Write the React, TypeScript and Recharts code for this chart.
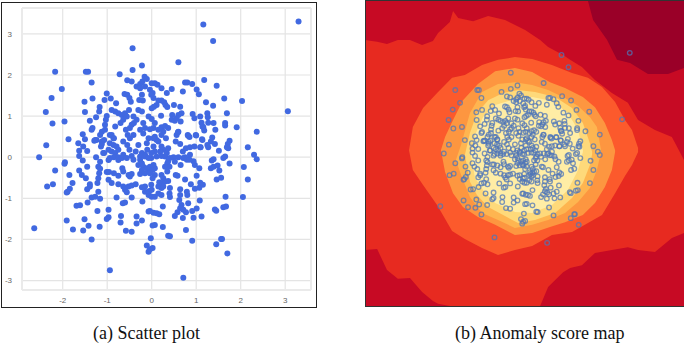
import { Area, CartesianGrid, ComposedChart, ReferenceArea, ReferenceLine, Scatter, ScatterChart, XAxis, YAxis } from 'recharts';

// points; panel (b) shows the same sample
const outerPoints = [
	[3.3, 3.3], [1.16, 3.23], [1.38, 2.83], [0.6, 2.31], [-0.43, 2.65], [3.06, 1.12], [-0.94, -2.75], [0.71, -2.93],
	[-2.17, 2.08], [-1.48, 2.08], [-1.43, 2.08], [-1.35, 1.82], [-2.02, 1.66], [-2.25, 1.44], [-2.38, 1.1], [-2.23, 0.82],
	[-1.96, 0.87], [-1.87, 0.44], [-2.37, 0.29], [-2.53, 0], [-1.95, -0.12], [-1.96, -0.16], [-2.17, -0.32], [-1.85, -0.43],
	[-2.22, -0.66], [-2.35, -0.71], [-2.64, -1.73], [2.03, 1.37], [1.91, 0.73], [2.36, 0.62], [2.16, 0.24], [2.3, 0.06],
	[2.36, -0.05], [2.07, -0.24], [2.16, -0.54], [2.05, -0.97], [1.7, -2.34],
];
const upperLeft = [
	[-0.22, 2.23], [-0.43, 2.12], [-0.72, 2.02], [-0.16, 1.96], [-0.55, 1.87], [-0.45, 1.84], [-0.34, 1.72], [-0.26, 1.78],
	[-0.21, 1.84], [-0.11, 1.9], [-0.15, 1.72], [-0.26, 1.68], [-1.51, 1.35], [-1.33, 1.43], [-1.5, 1.1], [-1.01, 1.55],
	[-1.06, 1.39], [-0.92, 1.43], [-0.8, 1.31], [-1.17, 1.22], [-1.18, 1.11], [-1.25, 0.97], [-1.39, 0.89], [-1.01, 1],
	[-1.03, 0.91], [-1.33, 0.71], [-1.35, 0.67], [-1.55, 0.56], [-1.5, 0.44], [-1.65, 0.34], [-1.54, 0.26], [-1.63, 0.16],
	[-1.45, 0.15], [-1.63, 0.03], [-1.25, 0], [-1.16, 0.54], [-1.12, 0.62], [-1.05, 0.67], [-1.29, 0.4], [-1.24, 0.42],
	[-1.12, 0.38], [-1.14, 0.26], [-0.94, 0.54], [-0.86, 0.46], [-0.94, 0.34], [-1.07, 0.1], [-0.61, 1.54], [-0.55, 1.52],
	[-0.5, 1.44], [-0.47, 1.35], [-0.22, 1.52], [-0.28, 1.39], [-0.2, 1.38], [-0.9, 1.15], [-0.82, 1.11], [-0.75, 1.07],
	[-0.67, 1.03], [-0.6, 1.07], [-0.51, 1.15], [-0.56, 0.99], [-0.64, 0.91], [-0.7, 0.83], [-0.3, 1.15], [-0.22, 1.11],
	[-0.41, 0.99], [-0.34, 0.91], [-0.45, 0.79], [-0.49, 0.71], [-0.4, 0.83], [-0.07, 0.99], [-0.19, 0.83], [-0.15, 0.71],
	[-0.26, 0.67], [-0.19, 0.58], [-0.58, 0.67], [-0.54, 0.54], [-0.49, 0.46], [-0.41, 0.54], [-0.82, 0.75], [-1.05, 0.79],
	[-1.27, 0.42], [-1.07, 0.42], [-1.12, 0.32], [-0.9, 0.54], [-0.85, 0.46], [-0.86, 0.3], [-0.79, 0.26], [-0.97, 0.18],
	[-0.9, 0.14], [-0.82, 0.1], [-0.75, 0.18], [-0.85, 0], [-0.75, 0], [-0.64, 0.38], [-0.55, 0.3], [-0.5, 0.18],
	[-0.64, 0.06], [-0.36, 0.14], [-0.3, 0.3], [-0.22, 0.1], [-0.15, 0.06], [-0.1, 0.18], [-1.09, 0.1], [-0.07, 0.46],
	[-0.11, 0.34], [-0.45, 0.03], [-0.26, 0.02], [-0.15, 0.02],
];
const upperRight = [
	[0, 1.8], [0.07, 1.8], [0.13, 1.76], [0.22, 1.68], [0.45, 1.66], [0.34, 1.56], [0.7, 1.6], [0.75, 1.82],
	[0.8, 1.82], [0.91, 1.78], [1.18, 1.88], [1.01, 1.65], [1.06, 1.53], [1.22, 1.34], [-0.04, 1.64], [0.02, 1.56],
	[0.04, 1.44], [-0.01, 1.52], [0.15, 1.38], [0.22, 1.38], [0.28, 1.34], [0.31, 1.27], [0.35, 1.22], [0.11, 1.27],
	[0.05, 1.23], [0.5, 1.27], [0.64, 1.23], [0.67, 1.07], [0.6, 1.03], [0.46, 1.03], [0.45, 0.91], [0.52, 0.89],
	[0.65, 0.87], [0.56, 0.95], [0.21, 1.01], [0, 1.19], [0.92, 1.05], [0.96, 0.95], [1.09, 0.99], [1.25, 1.07],
	[1.27, 0.84], [1.12, 0.84], [1.16, 0.73], [1.18, 0.65], [0, 0.93], [0.07, 0.83], [0.04, 0.71], [-0.04, 0.68],
	[0.22, 0.73], [0.3, 0.76], [0.37, 0.71], [0.26, 0.62], [0.22, 0.54], [0.15, 0.67], [0.07, 0.5], [0.11, 0.42],
	[0.15, 0.38], [0.04, 0.46], [0.32, 0.46], [0.6, 0.62], [0.56, 0.54], [0.54, 0.38], [0.82, 0.52], [0.99, 0.54],
	[1.14, 0.42], [1.27, 0.24], [0.22, 0.26], [0.26, 0.18], [0.34, 0.1], [0.37, 0.22], [0.19, 0.14], [0.04, 0.26],
	[0.07, 0.14], [-0.01, 0.1], [0.64, 0.32], [0.7, 0.14], [0.77, 0.22], [0.86, 0.24], [0.96, 0.26], [1.09, 0.24],
	[0.49, 0], [0.6, 0], [0.75, 0], [0.86, 0.06], [1.46, 1.74], [1.63, 1.43], [1.38, 1.25], [1.69, 1.07],
	[1.65, 0.83], [1.65, 0.77], [1.43, 0.67], [1.39, 0.83], [1.26, 0.97], [1.14, 0.75], [1.75, 0.4], [1.71, 0.32],
	[1.72, 0.22], [1.69, 0.24], [1.51, 0.16], [1.36, 0.48], [1.33, 0.38], [1.25, 0.3], [1.42, 0.32], [1.13, 0.44],
	[1, 0.53], [1.1, 0.24], [1.65, 0.02], [1.61, -0.02], [0.85, 0.49], [0.81, 0.54], [0.59, 0.61], [0.11, 0.02],
	[0.22, 0.03], [0.3, 0.02], [-0.01, -0.02],
];
const lowerLeft = [
	[-1.16, -0.11], [-1.2, -0.23], [-1.16, -0.28], [-1.18, -0.39], [-1.2, -0.51], [-1.22, -0.63], [-1.01, -0.36], [-0.96, -0.36],
	[-0.85, -0.39], [-0.75, -0.45], [-0.97, -0.55], [-0.9, -0.63], [-0.75, -0.66], [-0.64, -0.71], [-0.52, -0.71], [-0.45, -0.69],
	[-0.36, -0.66], [-0.6, -0.79], [-0.56, -0.85], [-1.39, -0.71], [-1.35, -0.98], [-1.27, -0.96], [-1.16, -1.01], [-1.2, -0.84],
	[-0.79, -0.98], [-0.45, -0.98], [-0.65, -1.12], [-0.6, -1.1], [-0.21, -1.08], [-1.22, -1.31], [-0.97, -1.28], [-0.97, -1.46],
	[-1.01, -1.5], [-0.69, -1.43], [-0.7, -1.59], [-0.34, -1.44], [-0.22, -1.54], [-0.34, -1.61], [-1.17, -1.69], [-0.58, -1.79],
	[-0.45, -1.81], [-1.35, -2], [-0.07, -1.32], [-0.66, -0.27], [-0.64, -0.35], [-0.49, -0.47], [-0.52, -0.43], [-0.45, -0.41],
	[-0.26, -0.41], [-0.75, -0.07], [-0.67, -0.02], [-0.94, -0.02], [-0.97, -0.07], [-0.22, -0.73], [-0.15, -0.71], [-0.15, -0.84],
	[-0.07, -0.92], [-0.05, -0.82], [-0.41, -0.06], [-0.26, -0.06], [-0.22, -0.15], [-0.3, -0.19], [-0.19, -0.23], [-0.11, -0.27],
	[-0.22, -0.31], [-0.07, -0.35], [-0.15, -0.39], [-0.07, -0.02], [-0.56, -0.02], [-1.78, -0.63], [-1.84, -0.77], [-1.89, -0.84],
	[-1.91, -0.86], [-1.63, -0.32], [-1.57, -0.43], [-1.48, -0.51], [-1.55, -0.08], [-1.45, -0.23], [-1.45, -0.78], [-1.39, -0.66],
	[-1.69, -1.18], [-1.61, -1.17], [-1.44, -1.1], [-1.91, -1.54], [-1.51, -1.51], [-1.77, -1.76], [-1.54, -1.78], [-1.42, -1.67],
	[-0.02, -1.97], [-0.11, -2.15], [-0.07, -2.3], [0.02, -2.21], [-0.04, -2.24],
];
const lowerRight = [
	[1.35, -0.08], [1.39, -0.05], [1.33, -0.27], [1.39, -0.23], [1.48, -0.2], [1.52, -0.32], [1.75, -0.15], [1.46, -0.54],
	[1.56, -0.5], [1.66, -0.96], [1.67, -1.2], [1.61, -1.22], [1.42, -1.27], [1.45, -1.3], [1.12, -1.44], [0.94, -1.47],
	[0.91, -1.31], [1.01, -1.25], [1.08, -1.05], [0.82, -1.12], [0.77, -1.34], [0.7, -1.48], [0.58, -1.34], [0.52, -1.43],
	[0.77, -1.77], [0.25, -1.7], [0.37, -1.91], [0.41, -1.92], [0.91, -2.03], [1.56, -1.99], [1.58, -1.99], [1.45, -2.12],
	[0.64, -0.78], [0.64, -0.92], [0.62, -1.04], [0.79, -0.84], [0.8, -0.92], [0.41, -0.75], [0.4, -0.88], [0.41, -0.97],
	[1.09, -0.62], [1.15, -0.67], [1.07, -0.74], [0.97, -0.77], [0.88, -0.66], [0.75, -0.54], [1.01, -0.45], [1.07, -0.27],
	[0.97, -0.19], [0.94, -0.1], [0.58, -0.45], [0.54, -0.43], [0.25, -1.2], [0.67, -1.16], [0.64, -1.24], [0.71, -1.28],
	[-0.04, -1.31], [0.04, -1.35], [0.11, -1.36], [0.17, -1.39], [0.02, -1.66], [0.07, -1.65], [0.04, -0.19], [0.07, -0.27],
	[-0.04, -0.23], [0.02, -0.31], [0.07, -0.43], [-0.04, -0.39], [0.02, -0.51], [0.22, -0.43], [0.26, -0.51], [0.3, -0.59],
	[0.25, -0.63], [0.19, -0.67], [0.15, -0.71], [0.22, -0.75], [0.26, -0.71], [0.17, -0.61], [0.37, -0.58], [0.35, -0.15],
	[0.4, -0.23], [0.3, -0.23], [0.35, -0.35], [0.37, -0.1], [0, -0.79], [0, -0.96], [0.07, -0.96], [0.15, -0.88],
	[0.22, -0.92], [-0.01, -0.67], [0.71, -0.02], [0.79, -0.06], [0.65, -0.19], [0.85, -0.06], [0.52, -0.11], [0.41, -0.02],
];

const tickValues = [-3, -2, -1, 0, 1, 2, 3];
const xTicks = [-2, -1, 0, 1, 2, 3];

// contour outlines of the score map: x stops with the lower and upper edge of each level
const redX = [-5, -4.62, -4.31, -3.97, -3.59, -3.21, -2.87, -2.71, -2.34, -2.24, -2.08, -1.61, -1.14, -0.61, 0.02, 0.49, 0.74, 1.21, 1.43, 1.8, 2.21, 2.74, 3.24, 3.56, 4.09, 4.62, 5];
const redTop = [3.72, 3.66, 3.59, 3.72, 3.72, 3.56, 3.69, 3.95, 4.31, 4.67, 4.44, 4.34, 4.51, 4.38, 4.05, 3.72, 3.49, 3.23, 3.07, 2.84, 2.41, 1.98, 1.66, 1.1, 0.77, 0.54, -0.21];
const redBottom = [-3.16, -3.13, -3.82, -4.11, -4.08, -4.54, -4.84, -4.93, -5, -5, -5, -5, -5, -5, -5, -5, -4.38, -3.89, -3.75, -3.66, -3.26, -3.16, -3.07, -3.16, -3.23, -2.77, -2.61];
const darkX = [1.99, 2.15, 2.59, 2.9, 3.31, 3.87, 4.5, 5];
const darkTop = [5, 5, 5, 5, 5, 5, 5, 5];
const darkBottom = [5, 4.38, 3.72, 3.07, 2.97, 2.61, 2.61, 2.8];
const orangeRedX = [-3.62, -3.5, -3.18, -2.74, -2.27, -1.87, -1.33, -0.83, -0.3, 0.24, 0.86, 1.49, 1.99, 2.43, 2.84, 3.15, 3.37, 3.56];
const orangeRedTop = [0.11, 0.87, 1.49, 1.98, 2.48, 2.57, 2.9, 3.07, 3.16, 3.1, 2.9, 2.64, 2.48, 2.18, 1.69, 1.1, 0.77, 0.18];
const orangeRedBottom = [0.11, -0.54, -1.03, -1.69, -2.54, -2.8, -3.1, -3.33, -3.16, -3.03, -2.67, -2.57, -2.28, -2.02, -1.3, -0.74, -0.38, 0.05];
const orangeX = [-2.62, -2.49, -2.24, -1.93, -1.46, -0.92, -0.3, 0.24, 0.8, 1.27, 1.83, 2.21, 2.52, 2.74, 2.84];
const orangeTop = [0.11, 0.54, 1.1, 1.75, 2.28, 2.7, 2.8, 2.67, 2.34, 2.15, 1.85, 1.52, 1, 0.44, 0.11];
const orangeBottom = [0.11, -0.61, -1.3, -1.75, -2.08, -2.34, -2.67, -2.61, -2.41, -2.25, -2.02, -1.62, -1.1, -0.54, 0.05];
const amberX = [-2.15, -1.99, -1.71, -1.33, -0.83, -0.3, 0.24, 0.74, 1.27, 1.68, 2.05, 2.27, 2.4];
const amberTop = [-0.21, 0.28, 1.33, 2.02, 2.28, 2.34, 2.25, 2.08, 1.82, 1.56, 1.2, 0.87, 0.11];
const amberBottom = [-0.21, -0.7, -1.43, -1.95, -2.18, -2.44, -2.34, -2.18, -1.95, -1.59, -1.13, -0.54, 0.05];
const yellowX = [-1.87, -1.71, -1.49, -1.14, -0.67, -0.2, 0.33, 0.96, 1.49, 1.83, 2.05, 2.12];
const yellowTop = [-0.05, 0.67, 1.33, 1.75, 1.98, 2.08, 2.02, 1.85, 1.49, 1, 0.34, 0.05];
const yellowBottom = [-0.05, -0.93, -1.36, -1.75, -2.02, -2.28, -2.18, -1.95, -1.46, -0.97, -0.38, -0.02];
const paleX = [-1.68, -1.55, -1.3, -0.92, -0.3, 0.24, 0.86, 1.36, 1.68, 1.83];
const paleTop = [-0.05, 0.61, 1.2, 1.59, 1.79, 1.85, 1.72, 1.33, 0.77, 0.11];
const paleBottom = [-0.05, -0.8, -1.2, -1.62, -1.92, -1.95, -1.69, -1.2, -0.54, 0.05];

const points = [...outerPoints, ...upperLeft, ...upperRight, ...lowerLeft, ...lowerRight].map(([x, y]) => ({ x, y }));

const band = (xs: number[], bottom: number[], top: number[]) =>
	xs.map((x, i) => ({ x, range: [bottom[i], top[i]] }));

const bands = [
	{ id: 'red', fill: '#e72a20', data: band(redX, redBottom, redTop) },
	{ id: 'dark', fill: '#9a0028', data: band(darkX, darkBottom, darkTop) },
	{ id: 'orangeRed', fill: '#fc5a2c', data: band(orangeRedX, orangeRedBottom, orangeRedTop) },
	{ id: 'orange', fill: '#fd9640', data: band(orangeX, orangeBottom, orangeTop) },
	{ id: 'amber', fill: '#feb550', data: band(amberX, amberBottom, amberTop) },
	{ id: 'yellow', fill: '#fed97a', data: band(yellowX, yellowBottom, yellowTop) },
	{ id: 'pale', fill: '#ffeda5', data: band(paleX, paleBottom, paleTop) },
];

const captionStyle = {
	position: 'absolute',
	top: 323,
	fontFamily: '"Liberation Serif", serif',
	fontSize: 18,
	color: '#111',
	whiteSpace: 'nowrap',
} as const;

const tickStyle = { fontFamily: '"Liberation Sans", sans-serif', fontSize: 8, fill: '#666' };

const SolidDot = (props: any) => <circle cx={props.cx} cy={props.cy} r={3} fill='#4169e1' />;
const RingDot = (props: any) => (
	<circle cx={props.cx} cy={props.cy} r={2.3} fill='none' stroke='#4f76b8' strokeOpacity={0.75} strokeWidth={1.3} />
);

export default function App() {
	return (
		<div style={{ position: 'absolute', left: 0, top: 0, width: 685, height: 345, background: '#fff', overflow: 'hidden' }}>
			<div style={{ position: 'absolute', left: 1, top: 2, width: 314, height: 304, border: '1.5px solid #222' }} />
			<div style={{ position: 'absolute', left: 0, top: 0 }}>
				<ScatterChart width={318} height={308} margin={{ top: 8, right: 7, bottom: 0, left: 0 }}>
					<CartesianGrid stroke='#e4e4e4' strokeWidth={1.2} />
					<XAxis
						type='number'
						dataKey='x'
						domain={[-2.915, 3.58]}
						ticks={xTicks}
						height={18}
						axisLine={false}
						tickLine={false}
						tick={tickStyle}
						tickMargin={1}
					/>
					<YAxis
						type='number'
						dataKey='y'
						domain={[-3.23, 3.63]}
						ticks={tickValues}
						width={22}
						axisLine={false}
						tickLine={false}
						tick={tickStyle}
						tickMargin={4}
					/>
					<ReferenceLine x={-2.915} stroke='#eaeaea' strokeWidth={2} />
					<ReferenceLine x={3.58} stroke='#eaeaea' strokeWidth={2} />
					<ReferenceLine y={3.63} stroke='#eaeaea' strokeWidth={2} />
					<ReferenceLine y={-3.23} stroke='#eaeaea' strokeWidth={2} />
					<Scatter data={points} shape={SolidDot} isAnimationActive={false} />
				</ScatterChart>
			</div>
			<div style={{ position: 'absolute', left: 365, top: 1 }}>
				<ComposedChart width={319} height={305} margin={{ top: 0, right: 0, bottom: 0, left: 0 }}>
					<XAxis type='number' dataKey='x' domain={[-5, 5]} hide />
					<YAxis type='number' domain={[-5, 5]} hide />
					<ReferenceArea x1={-5} x2={5} y1={-5} y2={5} fill='#c70a24' fillOpacity={1} stroke='none' />
					{bands.map((b) => (
						<Area
							key={b.id}
							data={b.data}
							dataKey='range'
							type='linear'
							fill={b.fill}
							fillOpacity={1}
							stroke='none'
							dot={false}
							activeDot={false}
							isAnimationActive={false}
						/>
					))}
					<Scatter data={points} dataKey='y' shape={RingDot} isAnimationActive={false} />
				</ComposedChart>
			</div>
			<div style={{ position: 'absolute', left: 365, top: 0, width: 318, height: 305, borderLeft: '1.5px solid #333', borderTop: '1.5px solid #333', borderBottom: '1.5px solid #333' }} />
			<div style={{ ...captionStyle, left: 93 }}>(a) Scatter plot</div>
			<div style={{ ...captionStyle, left: 455 }}>(b) Anomaly score map</div>
		</div>
	);
}
